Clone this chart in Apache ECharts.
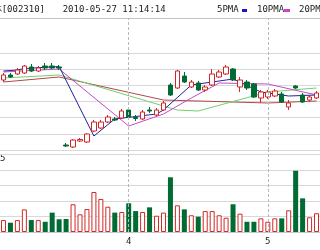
<!DOCTYPE html>
<html><head><meta charset="utf-8">
<script src="https://cdn.jsdelivr.net/npm/echarts@6/dist/echarts.min.js"></script>
<style>html,body{margin:0;padding:0;background:#fff;overflow:hidden}#c{width:320px;height:250px}</style>
</head><body><div id="c"></div>
<script>
const dates = ['03-08','03-09','03-10','03-11','03-12','03-15','03-16','03-17','03-18','03-19','03-22','03-23','03-24','03-25','03-26','03-29','03-30','03-31',
 '04-01','04-02','04-06','04-07','04-08','04-09','04-12','04-13','04-14','04-15','04-16','04-19','04-20','04-21','04-22','04-23','04-26','04-27','04-28','04-29',
 '05-04','05-05','05-06','05-07','05-10','05-11','05-12','05-13'];
// [open, close, low, high]
const candles = [
 [54.4,55.4,54.0,55.8],[55.4,55.0,54.8,55.8],[55.6,56.4,55.4,56.8],[55.8,57.2,55.6,57.4],[57.0,56.2,56.0,57.6],
 [56.2,56.8,56.0,57.2],[57.2,56.8,56.4,57.8],[57.2,56.8,56.6,57.8],[57.0,56.8,56.4,57.4],[41.4,41.2,41.0,41.8],
 [41.0,42.4,40.8,42.6],[42.2,42.5,42.0,42.8],[42.0,43.6,41.8,43.8],[44.2,46.0,44.0,46.4],[44.8,46.0,44.6,46.4],
 [46.0,47.0,45.8,47.4],[46.6,46.4,46.2,47.0],[46.8,48.2,46.6,48.6],[48.4,47.0,46.8,48.8],[46.9,46.7,46.2,47.4],
 [46.6,48.0,46.4,48.4],[48.4,48.2,47.8,49.0],[47.4,48.4,47.2,48.8],[48.4,49.8,48.2,50.2],[53.4,51.4,51.2,53.8],
 [52.8,56.2,52.6,56.4],[55.2,54.0,53.8,56.0],[53.0,54.0,52.8,54.4],[53.8,52.4,52.2,54.2],[52.4,53.0,52.0,53.4],
 [53.4,55.6,53.2,56.6],[55.0,56.0,54.8,56.4],[55.6,57.0,55.4,57.4],[56.6,54.4,54.2,56.8],[53.0,54.4,52.0,55.0],
 [54.0,52.8,52.4,54.4],[53.6,51.0,50.8,53.8],[50.8,52.0,49.8,52.4],[51.0,52.0,50.6,52.4],[51.2,52.2,51.0,52.6],
 [51.6,50.0,49.8,52.0],[49.0,49.8,48.4,50.4],[53.2,52.8,52.6,53.4],[51.4,50.0,49.8,51.8],[50.4,51.0,50.0,51.4],
 [50.8,51.8,50.6,52.2]
];
const volumes = [770,600,770,1460,770,770,660,1250,820,840,1790,1140,1480,2580,2130,1630,1250,1290,1850,1350,
 1290,1590,1050,1250,3530,1720,1460,1080,990,1350,1350,1080,920,1790,1180,660,660,880,660,880,880,1400,3950,2170,950,1210];
const N = null;
const ma5  = [56.2,N,56.4,56.7,N,N,N,N,57.1,N,N,N,N,43.2,N,N,46.6,N,N,N,N,N,47.6,48.4,N,N,N,53.4,N,N,N,N,54.4,54.6,N,N,N,52.0,N,N,N,51.2,N,N,N,51.4];
const ma10 = [56.0,N,N,N,N,N,N,N,56.6,N,N,N,N,N,N,N,N,N,45.2,N,N,N,N,47.6,N,N,N,50.8,N,N,N,53.8,N,N,N,N,N,N,53.6,N,N,N,N,N,N,51.4];
const ma20 = [54.8,N,N,N,N,N,N,N,55.4,N,N,N,N,N,N,N,N,N,N,N,N,N,N,49.2,N,48.4,N,N,48.2,N,N,N,N,N,N,N,N,N,52.0,N,N,N,N,N,N,52.8];
const ma30 = [54.0,N,N,N,N,N,N,N,55.0,N,N,N,N,N,N,N,N,N,N,N,N,N,N,50.4,N,N,N,N,N,N,N,N,N,50.0,N,N,N,N,49.8,N,N,N,N,N,N,50.2];
const monthLabels = {18:'4', 38:'5'};
const headerName = '东方园林[002310]';
const headerTime = '2010-05-27 11:14:14';
const legendNames = ['5PMA','10PMA','20PMA'];
const cutLabels = ['5'];

const UP = '#d02828', DOWN = '#006b32';
const isUp = candles.map(c => c[1] >= c[0]);
const mono = 'DejaVu Sans Mono';
const chart = echarts.init(document.getElementById('c'), null, {renderer:'canvas'});
const gridX = {left:-1.8, width:322.5};
const markV = {symbol:['none','none'], silent:true, label:{show:false},
  lineStyle:{color:'#b8b8b8', type:[3,2], width:1},
  data:Object.keys(monthLabels).map(k => ({xAxis:+k}))};
const GL = '#d8d8d8', NONE = 'rgba(0,0,0,0)';
chart.setOption({
  animation:false,
  grid:[Object.assign({top:18, height:132}, gridX), Object.assign({top:150, height:82}, gridX)],
  xAxis:[
    {type:'category', data:dates, gridIndex:0, axisLine:{show:false}, axisTick:{show:false}, axisLabel:{show:false}, splitLine:{show:false}},
    {type:'category', data:dates, gridIndex:1, axisLine:{show:true, lineStyle:{color:'#c8c8c8'}}, axisTick:{show:false},
     axisLabel:{interval:(i)=> monthLabels[i]!==undefined, formatter:(v,i)=> monthLabels[i]||'', color:'#222', fontSize:9, fontFamily:mono, margin:5},
     splitLine:{show:false}}
  ],
  yAxis:[
    {type:'value', gridIndex:0, min:40.4, max:66.8, interval:3.24, axisLine:{show:false}, axisTick:{show:false}, axisLabel:{show:false},
     splitLine:{lineStyle:{color:[GL,GL,GL,GL,GL,GL,GL,NONE,NONE,'#c4c4c4']}}},
    {type:'value', gridIndex:1, min:0, max:5290, interval:1000, axisLine:{show:false}, axisTick:{show:false}, axisLabel:{show:false},
     splitLine:{lineStyle:{color:GL}}}
  ],
  series:[
    {type:'candlestick', xAxisIndex:0, yAxisIndex:0, data:candles, barWidth:5,
     itemStyle:{color:'#fff', color0:DOWN, borderColor:UP, borderColor0:DOWN, borderWidth:1}, markLine:markV, z:3},
    {type:'line', xAxisIndex:0, yAxisIndex:0, data:ma30, connectNulls:true, showSymbol:false, lineStyle:{color:'#b04848', width:1}, z:2},
    {type:'line', xAxisIndex:0, yAxisIndex:0, data:ma20, connectNulls:true, showSymbol:false, lineStyle:{color:'#70d070', width:1}, z:2},
    {type:'line', xAxisIndex:0, yAxisIndex:0, data:ma10, connectNulls:true, showSymbol:false, lineStyle:{color:'#c848c8', width:1}, z:2},
    {type:'line', xAxisIndex:0, yAxisIndex:0, data:ma5, connectNulls:true, showSymbol:false, lineStyle:{color:'#22229a', width:1}, z:2},
    {type:'bar', xAxisIndex:1, yAxisIndex:1, barWidth:5, markLine:markV,
     data:volumes.map((v,i)=>({value:v, itemStyle: isUp[i] ? {color:'#fff', borderColor:UP, borderWidth:1} : {color:DOWN}}))}
  ],
  graphic:[
    {type:'text', right:275, top:5, style:{text:headerName, font:'9px '+mono, fill:'#222', textAlign:'right'}, z:10},
    {type:'text', left:62.7, top:5, style:{text:headerTime, font:'9px '+mono, fill:'#222'}},
    {type:'text', left:217, top:5, style:{text:legendNames[0], font:'9px '+mono, fill:'#222'}},
    {type:'rect', shape:{x:242, y:9, width:5, height:3}, style:{fill:'#1818c8'}},
    {type:'text', left:257, top:5, style:{text:legendNames[1], font:'9px '+mono, fill:'#222'}},
    {type:'rect', shape:{x:284, y:9, width:6, height:3}, style:{fill:'#d040d0'}},
    {type:'text', left:299, top:5, style:{text:legendNames[2], font:'9px '+mono, fill:'#222'}},
    {type:'text', left:0, top:154, style:{text:cutLabels[0], font:'9px '+mono, fill:'#222'}}
  ]
});
</script></body></html>
